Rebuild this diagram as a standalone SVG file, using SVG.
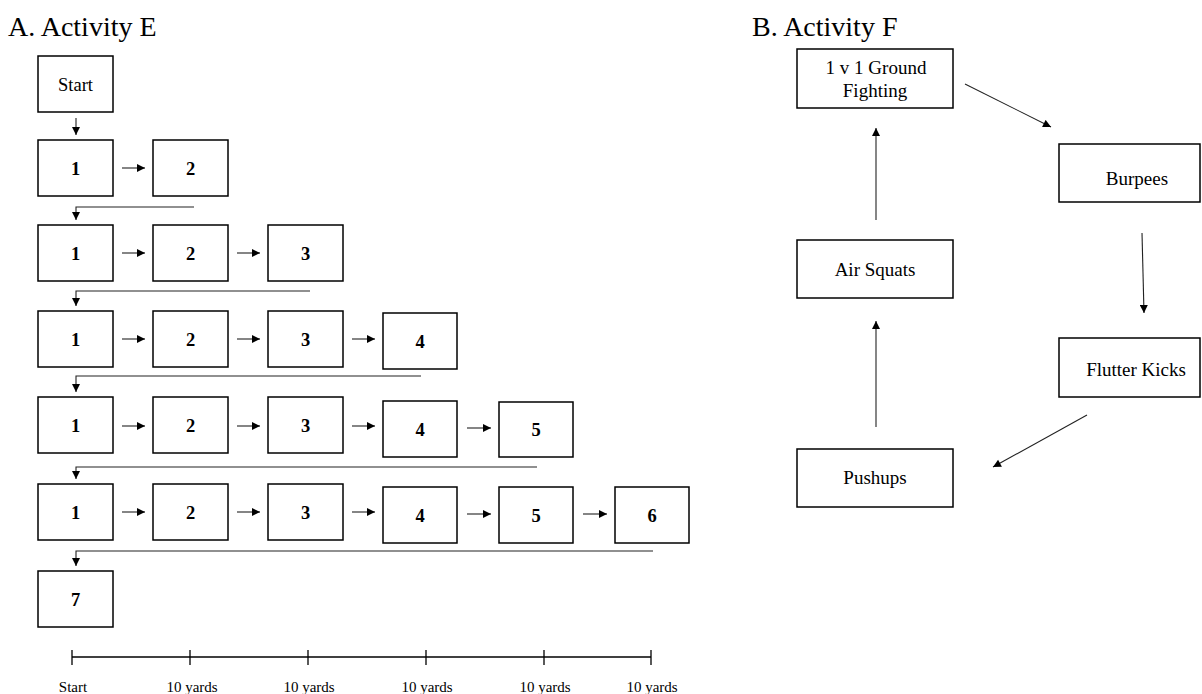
<svg xmlns="http://www.w3.org/2000/svg" width="1202" height="694" viewBox="0 0 1202 694">
<style>
.box{fill:#fff;stroke:#000;stroke-width:1.5}
.t{font-family:"Liberation Serif",serif;font-size:18.5px;text-anchor:middle;fill:#000}
.f{font-family:"Liberation Serif",serif;font-size:19px;text-anchor:middle;fill:#000}
.b{font-weight:bold}
.title{font-family:"Liberation Serif",serif;font-size:28px;fill:#000}
.ln{fill:none;stroke:#222;stroke-width:1.1}
.sc{fill:none;stroke:#000;stroke-width:1.3}
.lab{font-family:"Liberation Serif",serif;font-size:15px;text-anchor:middle;fill:#000}
</style>
<defs>
<marker id="ah" viewBox="0 0 10 10" refX="10" refY="5" markerWidth="9" markerHeight="8" markerUnits="userSpaceOnUse" orient="auto">
<path d="M0,0 L10,5 L0,10 Z" fill="#000"/>
</marker>
</defs>
<rect width="1202" height="694" fill="#fff"/>
<text class="title" x="8" y="36">A. Activity E</text>
<text class="title" x="752" y="36">B. Activity F</text>

<g id="start"><rect class="box" x="38" y="56" width="75" height="56"/><text class="t" x="75.5" y="91">Start</text></g>

<g id="row1">
<rect class="box" x="38" y="140" width="75" height="56"/><text class="t b" x="75.5" y="175">1</text>
<rect class="box" x="153" y="140" width="75" height="56"/><text class="t b" x="190.5" y="175">2</text>
</g>
<g id="row2">
<rect class="box" x="38" y="225" width="75" height="56"/><text class="t b" x="75.5" y="260">1</text>
<rect class="box" x="153" y="225" width="75" height="56"/><text class="t b" x="190.5" y="260">2</text>
<rect class="box" x="268" y="225" width="75" height="56"/><text class="t b" x="305.5" y="260">3</text>
</g>
<g id="row3">
<rect class="box" x="38" y="311" width="75" height="56"/><text class="t b" x="75.5" y="346">1</text>
<rect class="box" x="153" y="311" width="75" height="56"/><text class="t b" x="190.5" y="346">2</text>
<rect class="box" x="268" y="311" width="75" height="56"/><text class="t b" x="305.5" y="346">3</text>
<rect class="box" x="383" y="313" width="74" height="56"/><text class="t b" x="420" y="348">4</text>
</g>
<g id="row4">
<rect class="box" x="38" y="397" width="75" height="56"/><text class="t b" x="75.5" y="432">1</text>
<rect class="box" x="153" y="397" width="75" height="56"/><text class="t b" x="190.5" y="432">2</text>
<rect class="box" x="268" y="397" width="75" height="56"/><text class="t b" x="305.5" y="432">3</text>
<rect class="box" x="383" y="401" width="74" height="56"/><text class="t b" x="420" y="436">4</text>
<rect class="box" x="499" y="402" width="74" height="55"/><text class="t b" x="536" y="436">5</text>
</g>
<g id="row5">
<rect class="box" x="38" y="484" width="75" height="56"/><text class="t b" x="75.5" y="519">1</text>
<rect class="box" x="153" y="484" width="75" height="56"/><text class="t b" x="190.5" y="519">2</text>
<rect class="box" x="268" y="484" width="75" height="56"/><text class="t b" x="305.5" y="519">3</text>
<rect class="box" x="383" y="487" width="74" height="56"/><text class="t b" x="420" y="522">4</text>
<rect class="box" x="499" y="487" width="74" height="56"/><text class="t b" x="536" y="522">5</text>
<rect class="box" x="615" y="487" width="74" height="56"/><text class="t b" x="652" y="522">6</text>
</g>
<g id="n7"><rect class="box" x="38" y="571" width="75" height="56"/><text class="t b" x="75.5" y="606">7</text></g>

<g id="connectorsA">
<line class="ln" x1="76" y1="118" x2="76" y2="135" marker-end="url(#ah)"/>
<line class="ln" x1="122" y1="168" x2="145" y2="168" marker-end="url(#ah)"/>
<path class="ln" d="M194,207 H76 V220" marker-end="url(#ah)"/>
<line class="ln" x1="122" y1="253" x2="145" y2="253" marker-end="url(#ah)"/>
<line class="ln" x1="237" y1="253" x2="260" y2="253" marker-end="url(#ah)"/>
<path class="ln" d="M310,291 H76 V306" marker-end="url(#ah)"/>
<line class="ln" x1="122" y1="339" x2="145" y2="339" marker-end="url(#ah)"/>
<line class="ln" x1="237" y1="339" x2="260" y2="339" marker-end="url(#ah)"/>
<line class="ln" x1="352" y1="339" x2="375" y2="339" marker-end="url(#ah)"/>
<path class="ln" d="M421,376 H76 V392" marker-end="url(#ah)"/>
<line class="ln" x1="122" y1="426" x2="145" y2="426" marker-end="url(#ah)"/>
<line class="ln" x1="237" y1="426" x2="260" y2="426" marker-end="url(#ah)"/>
<line class="ln" x1="352" y1="426" x2="375" y2="426" marker-end="url(#ah)"/>
<line class="ln" x1="467" y1="428" x2="491" y2="428" marker-end="url(#ah)"/>
<path class="ln" d="M537,467 H76 V479" marker-end="url(#ah)"/>
<line class="ln" x1="122" y1="512" x2="145" y2="512" marker-end="url(#ah)"/>
<line class="ln" x1="237" y1="512" x2="260" y2="512" marker-end="url(#ah)"/>
<line class="ln" x1="352" y1="512" x2="375" y2="512" marker-end="url(#ah)"/>
<line class="ln" x1="467" y1="514" x2="491" y2="514" marker-end="url(#ah)"/>
<line class="ln" x1="583" y1="514" x2="607" y2="514" marker-end="url(#ah)"/>
<path class="ln" d="M653,551 H76 V566" marker-end="url(#ah)"/>
</g>

<g id="scale">
<line class="sc" x1="72" y1="657" x2="651" y2="657"/>
<line class="sc" x1="72" y1="650" x2="72" y2="665"/>
<line class="sc" x1="190" y1="650" x2="190" y2="665"/>
<line class="sc" x1="308" y1="650" x2="308" y2="665"/>
<line class="sc" x1="426" y1="650" x2="426" y2="665"/>
<line class="sc" x1="544" y1="650" x2="544" y2="665"/>
<line class="sc" x1="651" y1="650" x2="651" y2="665"/>
<text class="lab" x="73" y="692">Start</text>
<text class="lab" x="192" y="692">10 yards</text>
<text class="lab" x="309" y="692">10 yards</text>
<text class="lab" x="427" y="692">10 yards</text>
<text class="lab" x="545" y="692">10 yards</text>
<text class="lab" x="652" y="692">10 yards</text>
</g>

<g id="ground"><rect class="box" x="797" y="49" width="156" height="59"/><text class="f" x="876" y="74">1 v 1 Ground</text><text class="f" x="875" y="97">Fighting</text></g>
<g id="burpees"><rect class="box" x="1059" y="144" width="141" height="58"/><text class="f" x="1137" y="185">Burpees</text></g>
<g id="flutter"><rect class="box" x="1059" y="338" width="141" height="59"/><text class="f" x="1136" y="376">Flutter Kicks</text></g>
<g id="pushups"><rect class="box" x="797" y="449" width="156" height="58"/><text class="f" x="875" y="484">Pushups</text></g>
<g id="airsquats"><rect class="box" x="797" y="240" width="156" height="58"/><text class="f" x="875" y="276">Air Squats</text></g>

<g id="connectorsB">
<line class="ln" x1="965" y1="84" x2="1051" y2="127" marker-end="url(#ah)"/>
<line class="ln" x1="1142" y1="233" x2="1144" y2="313" marker-end="url(#ah)"/>
<line class="ln" x1="1087" y1="415" x2="993" y2="467" marker-end="url(#ah)"/>
<line class="ln" x1="876" y1="427" x2="876" y2="321" marker-end="url(#ah)"/>
<line class="ln" x1="876" y1="220" x2="876" y2="128" marker-end="url(#ah)"/>
</g>
</svg>
